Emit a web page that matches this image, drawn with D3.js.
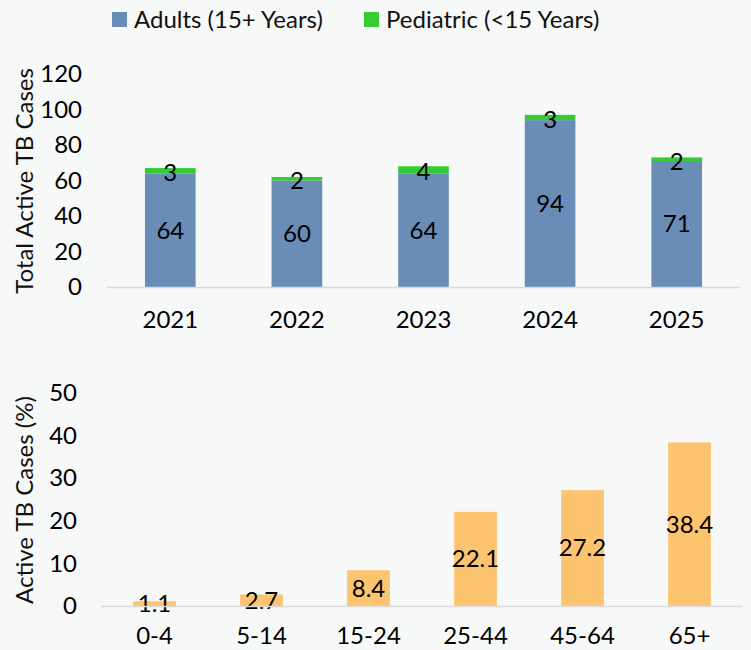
<!DOCTYPE html>
<html><head><meta charset="utf-8">
<script src="https://cdn.jsdelivr.net/npm/d3@7"></script>
<style>body{margin:0;background:#f7f8f8;}svg{display:block;font-family:Lato,"Open Sans",sans-serif;}</style>
</head><body><svg id="c" width="751" height="650"></svg>
<script>
const years = ["2021","2022","2023","2024","2025"];
const adults = [64,60,64,94,71];
const pediatric = [3,2,4,3,2];
const seriesNames = ["Adults (15+ Years)","Pediatric (<15 Years)"];
const topTicks = [0,20,40,60,80,100,120];
const ageGroups = ["0-4","5-14","15-24","25-44","45-64","65+"];
const agePct = [1.1,2.7,8.4,22.1,27.2,38.4];
const bottomTicks = [0,10,20,30,40,50];

const svg = d3.select("#c");
svg.append("rect").attr("width",751).attr("height",650).attr("fill","#f7f8f8");
const colors = ["#6a8db8","#33cc33"];
const fs = 24;

// Legend
const leg = [{x:112,t:seriesNames[0],c:colors[0]},{x:364,t:seriesNames[1],c:colors[1]}];
leg.forEach(d=>{
  svg.append("rect").attr("x",d.x).attr("y",12).attr("width",15).attr("height",15).attr("fill",d.c);
  svg.append("text").attr("x",d.x+22).attr("y",20).attr("dy","0.35em").attr("font-size",fs).attr("fill","#111").text(d.t);
});

// Top chart
const x1 = d3.scaleBand().domain(years).range([107,740]).paddingInner(0.6).paddingOuter(0.3);
const y1 = d3.scaleLinear().domain([0,120]).range([287,74]);
const stackData = years.map((y,i)=>({year:y,adults:adults[i],pediatric:pediatric[i]}));
const stack = d3.stack().keys(["adults","pediatric"])(stackData);
stack.forEach((layer,li)=>{
  svg.append("g").selectAll("rect").data(layer).join("rect")
    .attr("x",d=>x1(d.data.year)).attr("width",x1.bandwidth())
    .attr("y",d=>y1(d[1])).attr("height",d=>y1(d[0])-y1(d[1]))
    .attr("fill",colors[li]);
});
stack.forEach((layer,li)=>{
  svg.append("g").selectAll("text").data(layer).join("text")
    .attr("x",d=>x1(d.data.year)+x1.bandwidth()/2)
    .attr("y",d=>(y1(d[0])+y1(d[1]))/2 + (li===1?2:0))
    .attr("dy","0.35em").attr("text-anchor","middle").attr("font-size",fs).attr("fill","#000")
    .text(d=>d[1]-d[0]);
});
svg.append("line").attr("x1",107).attr("x2",740).attr("y1",y1(0)+0.5).attr("y2",y1(0)+0.5).attr("stroke","#d9d9d9").attr("stroke-width",1.5);
const ya1 = svg.append("g").attr("transform","translate(82,0)").call(d3.axisLeft(y1).tickValues(topTicks).tickSize(0).tickPadding(0));
ya1.select(".domain").remove();
ya1.selectAll("text").attr("font-size",fs).attr("font-family","Lato").attr("fill","#000");
const xa1 = svg.append("g").attr("transform","translate(0,311)").call(d3.axisBottom(x1).tickSize(0).tickPadding(0));
xa1.select(".domain").remove();
xa1.selectAll("text").attr("font-size",fs).attr("font-family","Lato").attr("fill","#000");
svg.append("text").attr("transform","translate(33,181) rotate(-90)").attr("text-anchor","middle").attr("font-size",fs).attr("fill","#111").text("Total Active TB Cases");

// Bottom chart
const x2 = d3.scaleBand().domain(ageGroups).range([101,743]).paddingInner(0.6).paddingOuter(0.3);
const y2 = d3.scaleLinear().domain([0,50]).range([606,393]);
svg.append("g").selectAll("rect").data(agePct).join("rect")
  .attr("x",(d,i)=>x2(ageGroups[i])).attr("width",x2.bandwidth())
  .attr("y",d=>y2(d)).attr("height",d=>y2(0)-y2(d)).attr("fill","#fdc46f");
svg.append("g").selectAll("text").data(agePct).join("text")
  .attr("x",(d,i)=>x2(ageGroups[i])+x2.bandwidth()/2)
  .attr("y",d=>(y2(0)+y2(d))/2).attr("dy","0.35em").attr("text-anchor","middle")
  .attr("font-size",fs).attr("fill","#000").text(d=>d.toFixed(1));
svg.append("line").attr("x1",101).attr("x2",743).attr("y1",y2(0)+0.5).attr("y2",y2(0)+0.5).attr("stroke","#d9d9d9").attr("stroke-width",1.5);
const ya2 = svg.append("g").attr("transform","translate(77,0)").call(d3.axisLeft(y2).tickValues(bottomTicks).tickSize(0).tickPadding(0));
ya2.select(".domain").remove();
ya2.selectAll("text").attr("font-size",fs).attr("font-family","Lato").attr("fill","#000");
const xa2 = svg.append("g").attr("transform","translate(0,627)").call(d3.axisBottom(x2).tickSize(0).tickPadding(0));
xa2.select(".domain").remove();
xa2.selectAll("text").attr("font-size",fs).attr("font-family","Lato").attr("fill","#000");
svg.append("text").attr("transform","translate(33,500) rotate(-90)").attr("text-anchor","middle").attr("font-size",fs).attr("fill","#111").text("Active TB Cases (%)");
</script></body></html>
